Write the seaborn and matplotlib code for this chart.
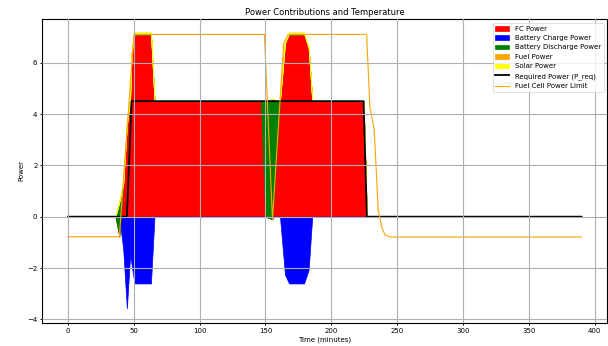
import matplotlib
matplotlib.use("Agg")
import matplotlib.pyplot as plt
import seaborn as sns
import numpy as np

# ---- data ----
time = [0, 36, 39, 42, 44.7, 47.2, 48.3, 50.5, 63, 65.7, 146.5, 149.8, 155.3,
        161.0, 164.8, 167.9, 179.3, 182.8, 185.5, 224.5, 227.0, 390]
p_req = [0, 0, 0, 0, 0, 3.1, 4.5, 4.5, 4.5, 4.5, 4.5, 4.5, 4.5,
         4.5, 4.5, 4.5, 4.5, 4.5, 4.5, 4.5, 0, 0]
fc_power = [0, 0, -0.78, 1.3, 3.57, 4.6, 6.37, 7.1, 7.1, 4.5, 4.5, 0.0, -0.1,
            4.5, 6.76, 7.1, 7.1, 6.56, 4.5, 4.5, 0, 0]
batt_charge = [0, 0, 0, -1.3, -3.57, -1.5, -1.87, -2.6, -2.6, 0, 0, 0, 0,
               0, -2.26, -2.6, -2.6, -2.06, 0, 0, 0, 0]
batt_discharge = [0, 0, 1.36, 0, 0, 0, 0, 0, 0, 0, 0, 4.5, 4.68,
                  0, 0, 0, 0, 0, 0, 0, 0, 0]
fuel_power = [0, 0, 0, 0, 0, 0, 0, 0.07, 0.07, 0, 0, 0, 0,
              0, 0, 0.07, 0.07, 0, 0, 0, 0, 0]
solar_power = [0] * 22

limit_time = [0, 39.0, 50.1, 149.2, 155.3, 163.8, 167.2, 226.8, 229.3, 232.6,
              235.6, 238.2, 240.7, 244.5, 390]
fc_limit = [-0.78, -0.78, 7.1, 7.1, -0.1, 6.75, 7.1, 7.1, 4.29, 3.38,
            0.26, -0.39, -0.71, -0.79, -0.79]

# ---- style ----
plt.rcParams.update({
    "font.family": ["DejaVu Sans"],
    "font.size": 10,
    "axes.linewidth": 1.6,
    "xtick.major.width": 1.4,
    "ytick.major.width": 1.4,
})

fig = plt.figure(figsize=(12.16, 6.92), dpi=50)
ax = fig.add_axes([0.0696, 0.0673, 0.929, 0.877])

t = np.array(time)
fc = np.array(fc_power)
ch = np.array(batt_charge)
dis = np.array(batt_discharge)
fu = np.array(fuel_power)
so = np.array(solar_power)

ax.fill_between(t, 0, fc, color="red", label="FC Power")
ax.fill_between(t, 0, ch, color="blue", label="Battery Charge Power")
ax.fill_between(t, fc, fc + dis, color="green", label="Battery Discharge Power")
ax.fill_between(t, fc + dis, fc + dis + fu, color="orange", label="Fuel Power")
ax.fill_between(t, fc + dis + fu, fc + dis + fu + so, color="yellow", label="Solar Power")

sns.lineplot(x=time, y=p_req, color="black", linewidth=2.6, label="Required Power (P_req)",
             ax=ax, estimator=None, sort=False)
sns.lineplot(x=limit_time, y=fc_limit, color="orange", linewidth=1.6,
             label="Fuel Cell Power Limit", ax=ax, estimator=None, sort=False)

ax.set_xlim(-19.5, 409.5)
ax.set_ylim(-4.13, 7.69)
ax.set_xticks([0, 50, 100, 150, 200, 250, 300, 350, 400])
ax.set_yticks([-4, -2, 0, 2, 4, 6])
ax.grid(True, color="#b0b0b0", linewidth=1.6)
ax.set_axisbelow(False)

ax.set_title("Power Contributions and Temperature", fontsize=12)
ax.set_xlabel("Time (minutes)")
ax.set_ylabel("Power")
ax.legend(loc="upper right", fontsize=10)

fig.savefig("out.png", dpi=50)
